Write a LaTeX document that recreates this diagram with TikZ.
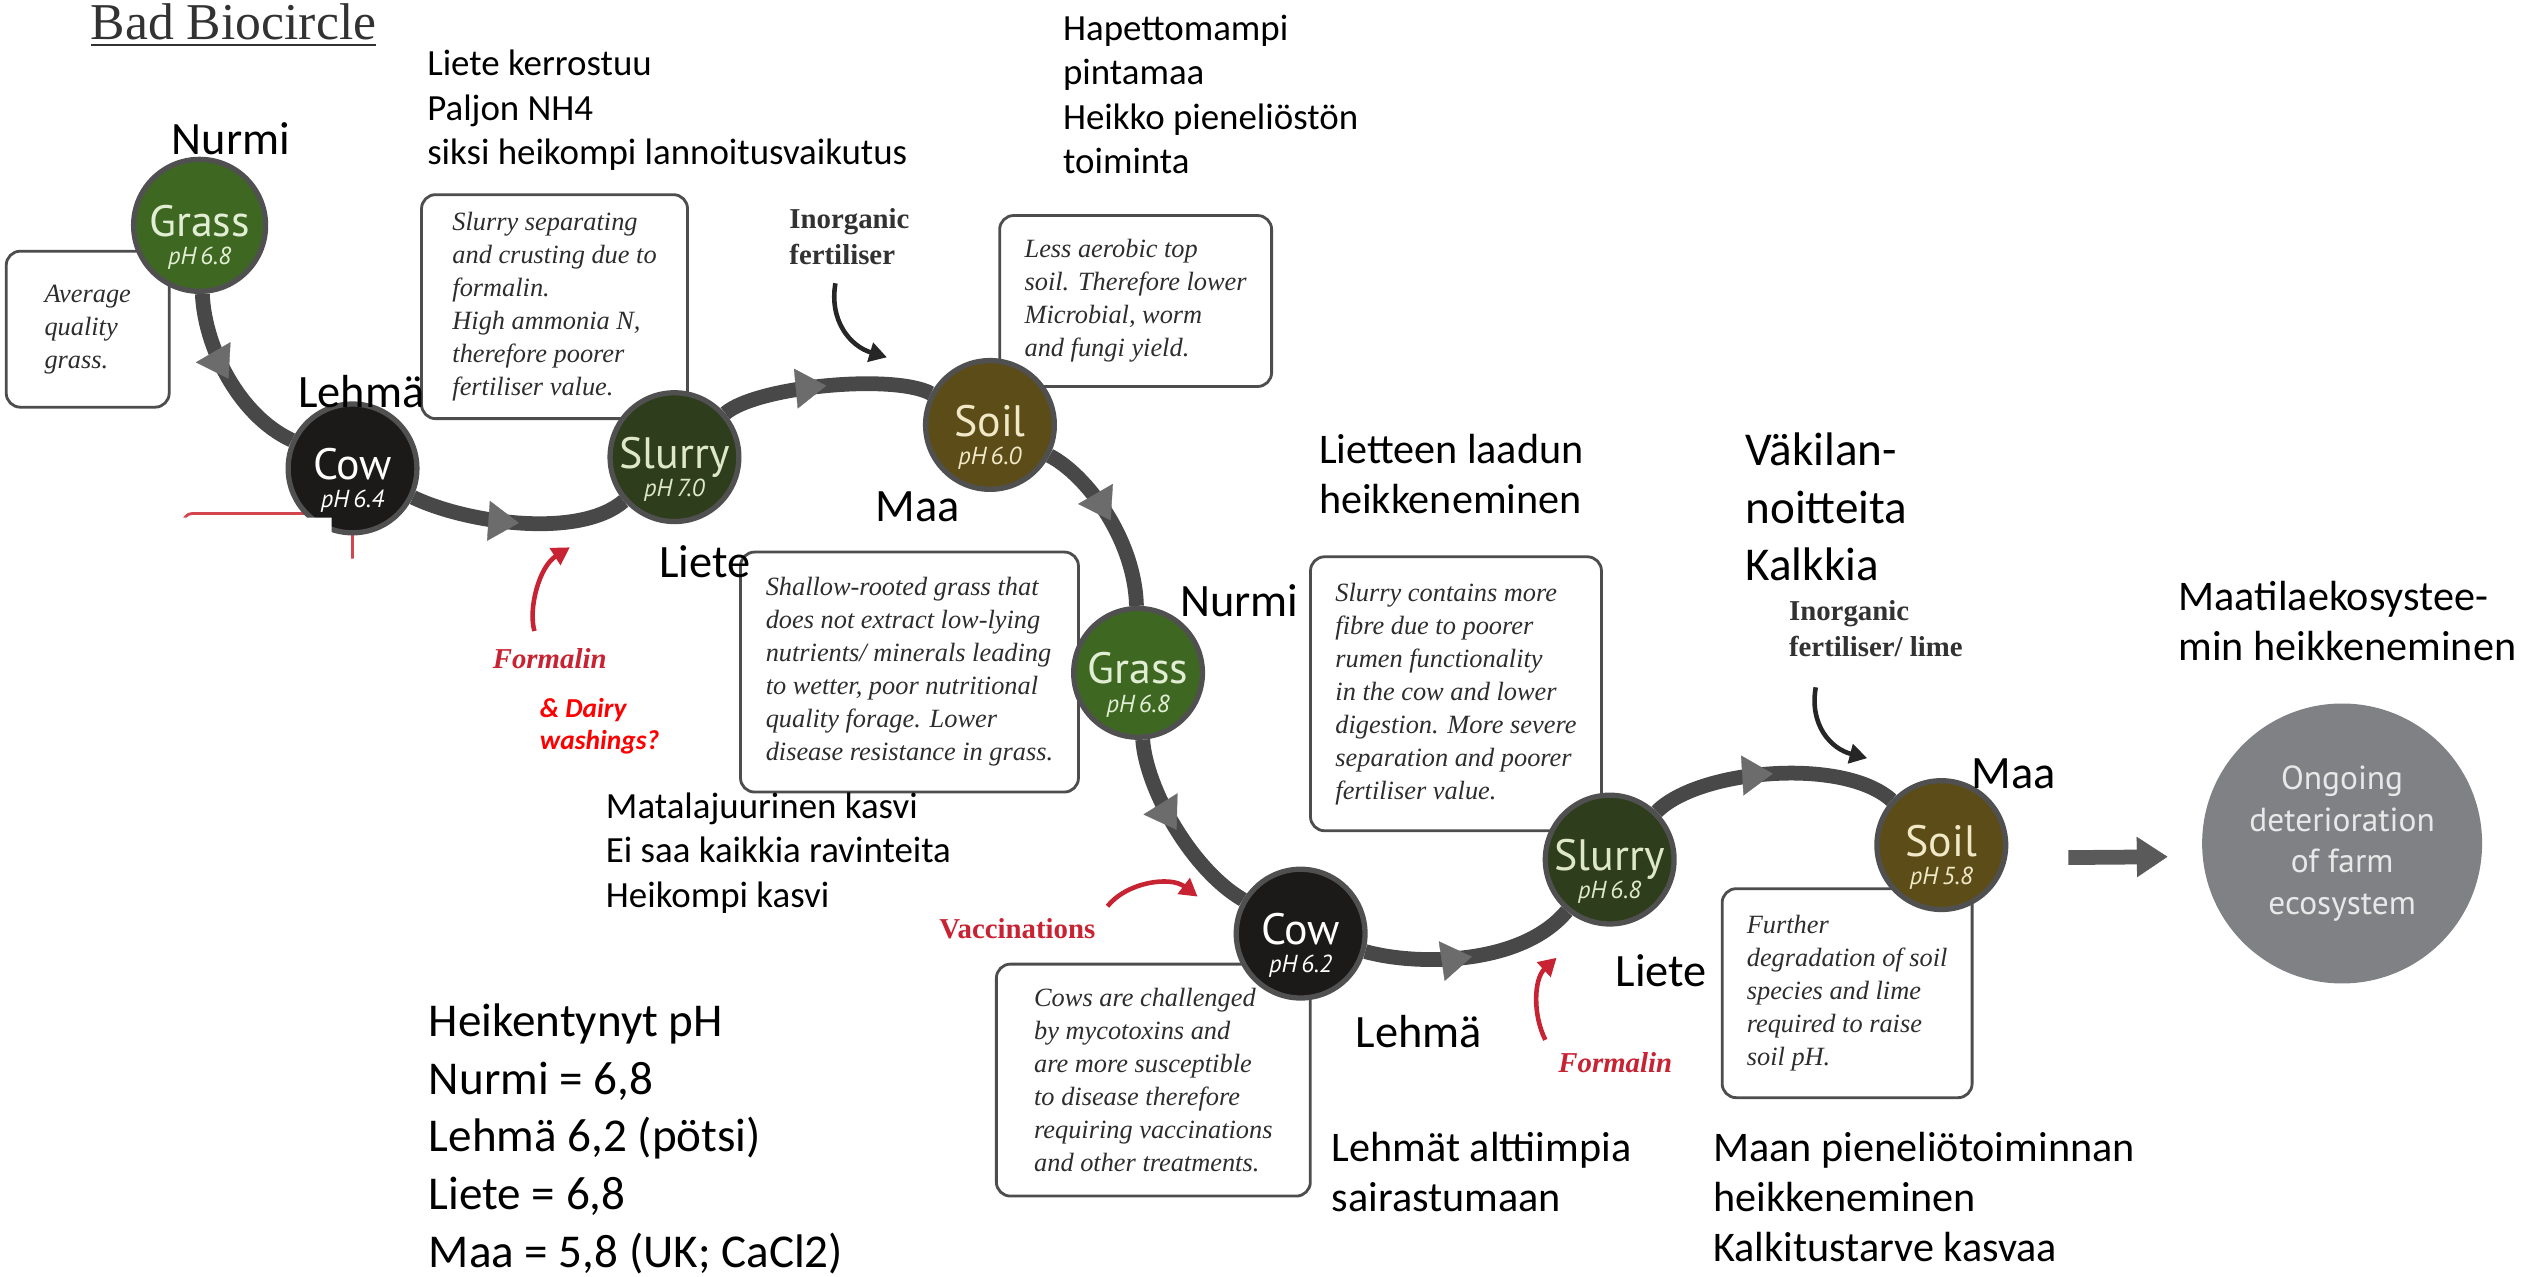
\documentclass[tikz,border=0pt]{standalone}
\usepackage{fontspec}
\setmainfont{Liberation Serif}
\newfontfamily\fifont{Carlito}
\newfontfamily\circfont{PT Sans}
\usetikzlibrary{arrows.meta,decorations.markings,backgrounds}

\definecolor{grassfill}{RGB}{62,104,34}
\definecolor{grasstext}{RGB}{226,238,212}
\definecolor{cowfill}{RGB}{28,25,25}
\definecolor{slurryfill}{RGB}{46,61,27}
\definecolor{slurrytext}{RGB}{222,232,200}
\definecolor{soilfill}{RGB}{92,77,24}
\definecolor{soiltext}{RGB}{240,232,198}
\definecolor{ringgray}{RGB}{80,80,80}
\definecolor{flowgray}{RGB}{72,72,72}
\definecolor{tipgray}{RGB}{108,108,108}
\definecolor{farmgray}{RGB}{127,129,132}
\definecolor{farmtext}{RGB}{232,232,232}
\definecolor{boxline}{RGB}{77,77,77}
\definecolor{boxtext}{RGB}{45,45,45}
\definecolor{formred}{RGB}{200,35,50}
\definecolor{artred}{RGB}{210,70,80}
\definecolor{headgray}{RGB}{50,50,50}

\tikzset{
  stage/.style={circle, draw=ringgray, line width=1.5pt, inner sep=0pt},
  stagetext/.style={font=\circfont\fontsize{12.5}{13}\selectfont, align=center, inner sep=0pt},
  stagelabel/.style={font=\fifont\fontsize{13.2}{15}\selectfont, inner sep=0pt},
  fitext/.style={font=\fifont\fontsize{10.5}{12.6}\selectfont, align=left, anchor=west, inner sep=0pt},
  fimid/.style={fitext, font=\fifont\fontsize{12}{14.2}\selectfont},
  fibig/.style={fitext, font=\fifont\fontsize{13.4}{16.4}\selectfont},
  notebox/.style={draw=boxline, line width=0.8pt, rounded corners=4pt, fill=white, text=boxtext,
                  align=left, inner sep=0pt, font=\itshape\fontsize{7.5}{9.4}\selectfont},
  inputlabel/.style={font=\bfseries\fontsize{8.2}{10}\selectfont, text=headgray, align=left, anchor=west, inner sep=0pt},
  redlabel/.style={font=\bfseries\itshape\fontsize{8.2}{10}\selectfont, text=formred, inner sep=0pt},
  flow/.style={draw=flowgray, line width=4.2pt, postaction={decorate},
               decoration={markings, mark=at position 0.5 with
                 {\arrow{Triangle[length=8.7pt,width=11.4pt,line width=0.1pt,color=tipgray]}}}},
  redarrow/.style={draw=formred, line width=1.3pt, ->},
  blackarrow/.style={draw=black!85, line width=1.3pt, ->},
  bigarrow/.style={draw=flowgray!90, line width=4.2pt, -{Triangle[length=8.7pt,width=11.5pt,line width=0.1pt]}},
  farm/.style={circle, fill=farmgray, text=farmtext, minimum size=28mm, inner sep=0pt, align=center,
               font=\circfont\fontsize{9.5}{11.9}\selectfont}
}

\begin{document}
\begin{tikzpicture}[x=0.161mm, y=-0.161mm, >={Triangle[length=5pt,width=5.5pt]}]
\useasboundingbox (0,0) rectangle (1568,793);

% 1. Title
\node[anchor=base west, inner sep=0pt, font=\fontsize{14.7}{16}\selectfont, text=headgray] (title)
  at (56,24.5) {\underline{Bad Biocircle}};

% 2. Note boxes
\node[notebox, minimum width=16.3mm, minimum height=15.6mm] (noteGrassA) at (54.5,204.5)
  {Average\\quality\\grass.};
\node[notebox, minimum width=26.6mm, minimum height=22.4mm] (noteSlurryA) at (344.5,190.5)
  {Slurry separating\\and crusting due to\\formalin.\\High ammonia N,\\therefore poorer\\fertiliser value.};
\node[notebox, minimum width=27.2mm, minimum height=17.1mm] (noteSoilA) at (705.5,187)
  {Less aerobic top\\soil. Therefore lower\\Microbial, worm\\and fungi yield.};
\node[notebox, minimum width=33.8mm, minimum height=24mm] (noteGrassB) at (565,417.5)
  {Shallow-rooted grass that\\does not extract low-lying\\nutrients/ minerals leading\\to wetter, poor nutritional\\quality forage. Lower\\disease resistance in grass.};
\node[notebox, minimum width=29.1mm, minimum height=27.4mm] (noteSlurryB) at (904.5,431)
  {Slurry contains more\\fibre due to poorer\\rumen functionality\\in the cow and lower\\digestion. More severe\\separation and poorer\\fertiliser value.};
\node[notebox, minimum width=31.4mm, minimum height=23.2mm] (noteCowB) at (716.5,671)
  {Cows are challenged\\by mycotoxins and\\are more susceptible\\to disease therefore\\requiring vaccinations\\and other treatments.};
\node[notebox, minimum width=25mm, minimum height=20.9mm] (noteSoilB) at (1147.5,617)
  {Further\\degradation of soil\\species and lime\\required to raise\\soil pH.};

% 3. Remains of a covered box
\draw[artred, line width=0.8pt, rounded corners=2.5pt] (114,319) rectangle (219,420);

% 4. Stages of the circle
\foreach \n/\x/\y/\dia/\fc/\tc/\w/\ph in {
  grassA/124/140/82/grassfill/grasstext/Grass/6.8,
  cowA/219/291/80/cowfill/white/Cow/6.4,
  slurryA/419/284/80/slurryfill/slurrytext/Slurry/7.0,
  soilA/615/264/80/soilfill/soiltext/Soil/6.0,
  grassB/707/418/80/grassfill/grasstext/Grass/6.8,
  cowB/808/580/80/cowfill/white/Cow/6.2,
  slurryB/1000/534/80/slurryfill/slurrytext/Slurry/6.8,
  soilB/1206/525/80/soilfill/soiltext/Soil/5.8}
{
  \node[stage, fill=\fc, minimum size=\dia*0.161mm] (\n) at (\x,\y) {};
  \node[stagetext, text=\tc] (\n-text) at ([yshift=-3.4pt]\n.center)
    {\w\\[-5pt]{\itshape\fontsize{7}{8}\selectfont pH\,\ph}};
}

% 4.1. white patches over the old box
\fill[white] (90,321.5) rectangle (206,430) (206,347) rectangle (240,430);

% 4.2. and the thick flow behind everything
\begin{scope}[on background layer]
  \fill[white] (0,0) rectangle (1568,793);
  \foreach \a/\b/\ax/\ay/\bx/\by in {grassA/cowA/127/215/148/258,
                                     cowA/slurryA/290/325/360/335,
                                     slurryA/soilA/470/240/555/232,
                                     soilA/grassB/675/295/705/335,
                                     grassB/cowB/712/490/740/540,
                                     cowB/slurryB/880/600/945/600,
                                     slurryB/soilB/1055/478/1145/470}
    \draw[flow] (\a) .. controls (\ax,\ay) and (\bx,\by) .. (\b);
\end{scope}

% 5. End of the chain
\node[farm] (farm) at (1455,524) {Ongoing\\deterioration\\of farm\\ecosystem};
\draw[bigarrow, shorten <=6mm, shorten >=3.4mm] ([yshift=-3.7pt]soilB.east) -- ([yshift=-3.7pt]farm.west);

% 6. Inputs
\node[inputlabel] (inorgA) at (490,147) {Inorganic\\fertiliser};
\node[inputlabel] (inorgB) at (1111,390.5) {Inorganic\\fertiliser/ lime};
\node[redlabel] (formalinA) at (341.5,409) {Formalin};
\node[redlabel] (formalinB) at (1003.5,660) {Formalin};
\node[redlabel, font=\bfseries\fontsize{8.2}{10}\selectfont] (vacc) at (632,577) {Vaccinations};
\node[fitext, font=\fifont\bfseries\itshape\fontsize{7.8}{9.2}\selectfont, text=red] (dairy)
  at (335,451) {\& Dairy\\washings?};

% 6.1. and their arrows
\coordinate (inorgA-s) at (519,176);   \coordinate (inorgA-e) at (551,222);
\coordinate (inorgB-s) at (1128,427);  \coordinate (inorgB-e) at (1160,471);
\coordinate (formA-s) at (332,392);    \coordinate (formA-e) at (354,340);
\coordinate (formB-s) at (960,646);    \coordinate (formB-e) at (967,595);
\coordinate (vacc-s) at (688,563);     \coordinate (vacc-e) at (744,557);
\draw[blackarrow] (inorgA-s) .. controls (515,199) and (528,215) .. (inorgA-e);
\draw[blackarrow] (inorgB-s) .. controls (1124,450) and (1137,465) .. (inorgB-e);
\draw[redarrow] (formA-s) .. controls (328,378) and (335,352) .. (formA-e);
\draw[redarrow] (formB-s) .. controls (952,630) and (953,608) .. (formB-e);
\draw[redarrow] (vacc-s) .. controls (700,548) and (727,544) .. (vacc-e);

% 7. Finnish names of the stages
\node[stagelabel] (nurmiA) at (143.5,86) {Nurmi};
\node[stagelabel] (lehmaA) at (224.5,243) {Lehmä};
\node[stagelabel] (lieteA) at (438,349) {Liete};
\node[stagelabel] (maaA) at (570,315) {Maa};
\node[stagelabel] (nurmiB) at (770,373) {Nurmi};
\node[stagelabel] (lehmaB) at (881.5,641) {Lehmä};
\node[stagelabel] (lieteB) at (1032,603) {Liete};
\node[stagelabel] (maaB) at (1251,481) {Maa};

% 8. Finnish notes
\node[fitext] (fiSlurryA) at (265,68.5) {Liete kerrostuu\\Paljon NH4\\siksi heikompi lannoitusvaikutus};
\node[fitext] (fiSoilA) at (660,58.75) {Hapettomampi\\pintamaa\\Heikko pieneliöstön\\toiminta};
\node[fitext] (fiGrassB) at (376,530) {Matalajuurinen kasvi\\Ei saa kaikkia ravinteita\\Heikompi kasvi};
\node[fimid] (fiSlurryB) at (819,294.5) {Lietteen laadun\\heikkeneminen};
\node[fibig] (fiInput) at (1084,315) {Väkilan-\\noitteita\\Kalkkia};
\node[fimid] (fiFarm) at (1353,386) {Maatilaekosystee-\\min heikkeneminen};
\node[fimid] (fiCowB) at (827,728) {Lehmät alttiimpia\\sairastumaan};
\node[fimid] (fiSoilB) at (1064,743.5) {Maan pieneliötoiminnan\\heikkeneminen\\Kalkitustarve kasvaa};
\node[fibig] (fiPH) at (266,707.5) {Heikentynyt pH\\Nurmi = 6,8\\Lehmä 6,2 (pötsi)\\Liete = 6,8\\Maa = 5,8 (UK; CaCl2)};
\end{tikzpicture}
\end{document}
